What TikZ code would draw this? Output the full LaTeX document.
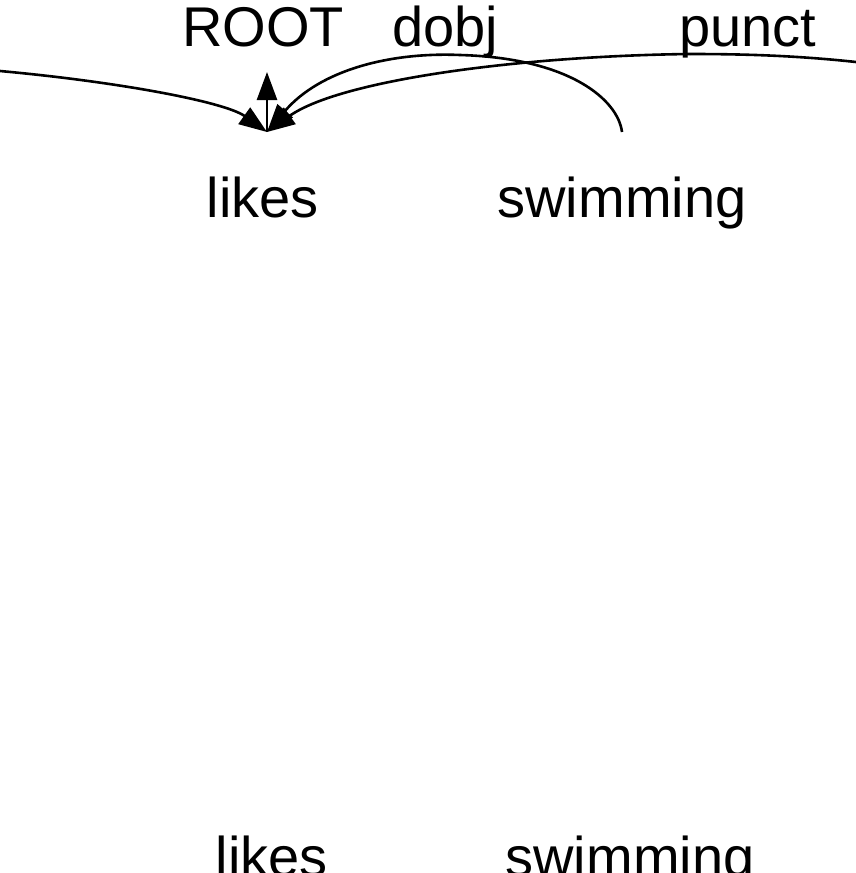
\documentclass[tikz,border=0pt]{standalone}
\usepackage{fontspec}
\setmainfont{Liberation Sans}
\usetikzlibrary{arrows.meta}
\begin{document}
\begin{tikzpicture}[x=1pt,y=-1pt,
  word/.style={inner sep=0pt,anchor=base,font=\fontsize{56}{60}\selectfont},
  arc/.style={line width=2.6pt,-{Triangle[length=28pt,width=20pt]}},
  plainarc/.style={line width=2.6pt}]
\useasboundingbox (0,0) rectangle (856,873);
\clip (0,0) rectangle (856,873);
% labels
\node[word] (lroot) at (263,46) {ROOT};
\node[word] (ldobj) at (445,46) {dobj};
\node[word] (lpunct) at (748,46) {punct};
% words
\node[word] (likes) at (263,217) {likes};
\node[word] (swim) at (622,217) {swimming};
\node[word] (likesb) at (272,876) {likes};
\node[word] (swimb) at (630,876) {swimming};
% coordinates
\coordinate (tip) at (267,132);
\coordinate (rtop) at (267,72);
\coordinate (dstart) at (622,132);
\coordinate (dpeak) at (460,55);
\coordinate (lend) at (0,71);
\coordinate (rend) at (856,62);
\coordinate (ppeak) at (690,54);
% arcs
\draw[arc] (tip) -- (rtop);
\draw[arc] (lend) .. controls (120,82) and (225,102) .. (tip);
\draw[plainarc] (dstart) .. controls (618,100) and (570,58) .. (dpeak);
\draw[arc] (dpeak) .. controls (390,52) and (320,70) .. (tip);
\draw[plainarc] (rend) .. controls (800,56) and (750,54) .. (ppeak);
\draw[arc] (ppeak) .. controls (520,56) and (340,80) .. (tip);
\end{tikzpicture}
\end{document}
